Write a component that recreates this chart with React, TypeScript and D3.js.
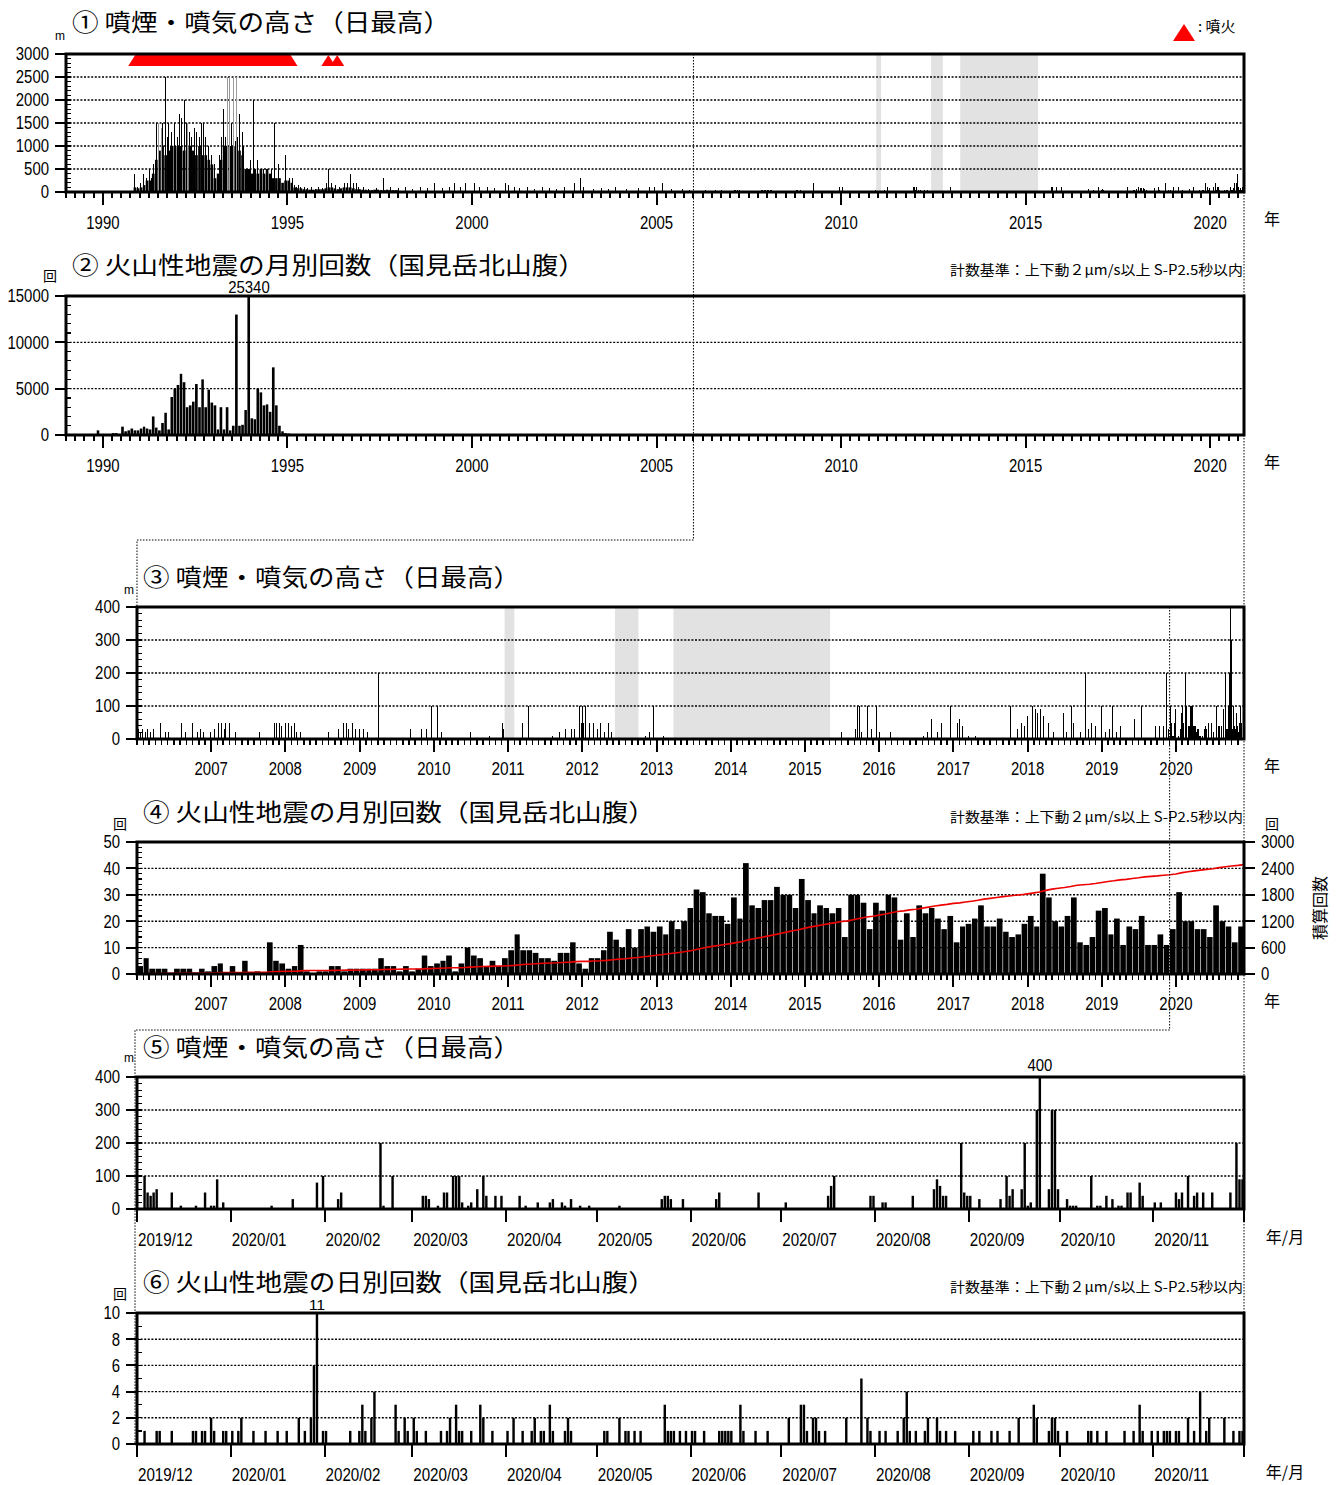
import React from 'react';
import * as d3 from 'd3';

// ---------- data ----------
// ① plume height, monthly dense level from 1990-10 (m)
const plumeMonthly90s = [
  0, 100, 80,
  100, 150, 250, 250, 400, 700, 900, 1000, 800, 900, 1000, 1000,
  1000, 1000, 900, 1000, 1000, 900, 800, 1000, 800, 800, 700, 600,
  300, 400, 700, 1000, 1000, 1000, 1000, 900, 900, 800, 500, 500,
  400, 500, 400, 500, 400, 500, 400, 300, 300, 300, 200, 250,
  250, 200, 100, 80, 80, 60, 60, 50, 50, 60, 60, 60,
  80, 100, 100, 80, 60, 80, 100, 100, 100, 80, 60, 60,
  50, 50, 40, 40, 50, 50, 40, 40, 50, 40, 40, 40,
];
// individual high days [decimal year, m]
const plumeSpikes90s = [
  [1990.87, 400], [1990.95, 100], [1991.03, 200], [1991.11, 400], [1991.18, 300], [1991.26, 500],
  [1991.32, 300], [1991.38, 600], [1991.46, 1500], [1991.53, 800], [1991.62, 1500], [1991.69, 2500],
  [1991.74, 1200], [1991.78, 1500], [1991.82, 1000], [1991.86, 1300], [1991.94, 1500], [1992.02, 1200],
  [1992.08, 1700], [1992.13, 1600], [1992.2, 2000], [1992.26, 1500], [1992.34, 1300], [1992.4, 1200],
  [1992.48, 1400], [1992.54, 1300], [1992.61, 1200], [1992.67, 1500], [1992.73, 1500], [1992.79, 1200],
  [1992.86, 1000], [1992.95, 800], [1993.03, 600], [1993.15, 800], [1993.22, 1200], [1993.28, 1800],
  [1993.33, 1200], [1993.49, 1500], [1993.58, 1100], [1993.65, 1200], [1993.71, 1700], [1993.77, 1300],
  [1993.82, 1000], [1993.93, 500], [1994.0, 700], [1994.07, 2000], [1994.19, 700], [1994.34, 500],
  [1994.46, 500], [1994.58, 500], [1994.66, 1500], [1994.76, 600], [1994.94, 800], [1995.06, 300],
];
const plumeGraySpikes = [
  [1991.5, 1500], [1991.58, 1400], [1992.3, 1500], [1993.37, 2500], [1993.44, 2500], [1993.54, 2500], [1993.61, 2500],
];
const plumeSpikes95to05 = [
  [1995.15, 300], [1995.2, 150], [1995.25, 100], [1995.3, 150], [1995.35, 100], [1995.45, 100], [1995.55, 80],
  [1995.65, 100], [1995.75, 60], [1995.85, 100], [1995.95, 80], [1996.05, 200], [1996.11, 500], [1996.2, 200],
  [1996.3, 150], [1996.4, 100], [1996.55, 200], [1996.62, 200], [1996.7, 400], [1996.78, 200], [1996.86, 200],
  [1996.92, 100], [1997.05, 100], [1997.2, 60], [1997.4, 80], [1997.6, 300], [1997.8, 100], [1998.0, 80],
  [1998.2, 100], [1998.4, 60], [1998.6, 100], [1998.8, 80], [1998.98, 200], [1999.2, 80], [1999.4, 100],
  [1999.53, 200], [1999.7, 100], [1999.83, 200], [2000.07, 200], [2000.2, 100], [2000.43, 100], [2000.6, 80],
  [2000.92, 200], [2000.98, 150], [2001.15, 100], [2001.3, 80], [2001.5, 100], [2001.7, 60], [2001.9, 100],
  [2002.1, 80], [2002.3, 60], [2002.5, 100], [2002.79, 200], [2002.95, 300], [2003.02, 100], [2003.3, 60],
  [2003.5, 80], [2003.7, 60], [2003.9, 100], [2004.2, 60], [2004.5, 80], [2004.8, 100], [2004.95, 100],
  [2005.17, 200], [2005.4, 60], [2005.7, 60], [2005.9, 50],
];
// ③ plume height 2006-01 .. 2019-11 [decimal year, m]
const plumeSpikes06to19 = [
  [2006.02, 30], [2006.05, 20], [2006.08, 30], [2006.11, 20], [2006.14, 30], [2006.18, 20], [2006.22, 30],
  [2006.32, 50], [2006.38, 20], [2006.42, 20], [2006.6, 50], [2006.66, 20], [2006.75, 50], [2006.82, 20],
  [2006.86, 30], [2006.9, 20], [2006.99, 20], [2007.05, 30], [2007.1, 50], [2007.14, 50], [2007.18, 30],
  [2007.2, 50], [2007.25, 50], [2007.33, 20], [2007.65, 20], [2007.85, 50], [2007.88, 50], [2007.92, 50],
  [2007.95, 40], [2008.0, 50], [2008.04, 50], [2008.08, 40], [2008.12, 50], [2008.15, 20], [2008.2, 20],
  [2008.58, 20], [2008.72, 30], [2008.78, 50], [2008.82, 50], [2008.85, 30], [2008.9, 50], [2008.95, 30],
  [2009.0, 30], [2009.05, 30], [2009.1, 20], [2009.25, 200], [2009.69, 30], [2009.83, 30], [2009.9, 30],
  [2009.97, 100], [2010.05, 100], [2010.1, 20], [2010.5, 20], [2010.75, 10], [2010.92, 50], [2010.94, 30],
  [2011.19, 50], [2011.27, 100], [2011.6, 10], [2011.7, 20], [2011.78, 30], [2011.85, 30], [2011.9, 30],
  [2011.97, 100], [2011.99, 50], [2012.0, 100], [2012.02, 50], [2012.05, 100], [2012.1, 50], [2012.15, 50],
  [2012.2, 30], [2012.25, 50], [2012.3, 20], [2012.35, 50], [2012.4, 20], [2012.85, 10], [2012.9, 20],
  [2012.96, 100], [2013.1, 10], [2015.5, 20], [2015.68, 30], [2015.71, 100], [2015.73, 100], [2015.76, 20],
  [2015.85, 100], [2015.9, 30], [2015.96, 100], [2016.0, 20], [2016.15, 20], [2016.6, 10], [2016.65, 20],
  [2016.71, 60], [2016.79, 20], [2016.84, 50], [2016.96, 100], [2017.05, 50], [2017.08, 60], [2017.12, 40],
  [2017.2, 10], [2017.3, 10], [2017.77, 100], [2017.87, 30], [2017.92, 50], [2017.96, 40], [2018.0, 70],
  [2018.06, 100], [2018.1, 90], [2018.14, 80], [2018.18, 90], [2018.22, 70], [2018.28, 50], [2018.35, 20],
  [2018.48, 80], [2018.52, 20], [2018.59, 100], [2018.62, 50], [2018.72, 20], [2018.78, 200], [2018.82, 30],
  [2018.86, 50], [2018.92, 40], [2019.0, 100], [2019.05, 20], [2019.1, 30], [2019.14, 100], [2019.2, 20],
  [2019.25, 40], [2019.44, 60], [2019.54, 100], [2019.72, 40], [2019.78, 40], [2019.83, 40], [2019.87, 200],
  [2019.9, 30],
];
// ⑤ daily max plume height 2019-12 .. 2020-11
const plumeDaily: [string, number][] = [
  ['2019-12-03', 100], ['2019-12-04', 50], ['2019-12-05', 40], ['2019-12-06', 50], ['2019-12-07', 60],
  ['2019-12-12', 50], ['2019-12-15', 10], ['2019-12-20', 10], ['2019-12-23', 50], ['2019-12-25', 10],
  ['2019-12-26', 10], ['2019-12-27', 90], ['2019-12-29', 20], ['2020-01-14', 10], ['2020-01-21', 30],
  ['2020-01-29', 80], ['2020-01-31', 100], ['2020-02-05', 30], ['2020-02-06', 50], ['2020-02-19', 200],
  ['2020-02-20', 10], ['2020-02-23', 100], ['2020-03-04', 40], ['2020-03-05', 40], ['2020-03-06', 30],
  ['2020-03-09', 10], ['2020-03-11', 50], ['2020-03-12', 50], ['2020-03-14', 100], ['2020-03-15', 100],
  ['2020-03-16', 100], ['2020-03-17', 20], ['2020-03-19', 10], ['2020-03-20', 20], ['2020-03-22', 60],
  ['2020-03-24', 100], ['2020-03-25', 40], ['2020-03-28', 40], ['2020-03-30', 40], ['2020-04-05', 40],
  ['2020-04-07', 10], ['2020-04-11', 20], ['2020-04-15', 20], ['2020-04-16', 30], ['2020-04-19', 20],
  ['2020-04-20', 10], ['2020-04-22', 30], ['2020-04-25', 10], ['2020-04-28', 10], ['2020-05-08', 10],
  ['2020-05-22', 30], ['2020-05-23', 40], ['2020-05-24', 40], ['2020-05-25', 30], ['2020-05-29', 30],
  ['2020-06-09', 30], ['2020-06-10', 50], ['2020-06-23', 50], ['2020-07-02', 20], ['2020-07-16', 40],
  ['2020-07-17', 70], ['2020-07-18', 100], ['2020-07-30', 40], ['2020-07-31', 40], ['2020-08-03', 20],
  ['2020-08-04', 20], ['2020-08-13', 40], ['2020-08-20', 60], ['2020-08-21', 90], ['2020-08-22', 70],
  ['2020-08-23', 40], ['2020-08-24', 40], ['2020-08-29', 200], ['2020-08-30', 50], ['2020-08-31', 40],
  ['2020-09-01', 40], ['2020-09-04', 30], ['2020-09-11', 30], ['2020-09-13', 100], ['2020-09-14', 40],
  ['2020-09-15', 60], ['2020-09-18', 60], ['2020-09-19', 200], ['2020-09-20', 10], ['2020-09-21', 20],
  ['2020-09-23', 300], ['2020-09-24', 400], ['2020-09-27', 60], ['2020-09-28', 300], ['2020-09-29', 300],
  ['2020-09-30', 60], ['2020-10-03', 30], ['2020-10-04', 10], ['2020-10-05', 10], ['2020-10-06', 10],
  ['2020-10-11', 100], ['2020-10-13', 10], ['2020-10-14', 10], ['2020-10-16', 40], ['2020-10-18', 30],
  ['2020-10-20', 10], ['2020-10-21', 10], ['2020-10-23', 50], ['2020-10-24', 50], ['2020-10-27', 80],
  ['2020-10-28', 40], ['2020-11-01', 20], ['2020-11-03', 20], ['2020-11-08', 50], ['2020-11-09', 30],
  ['2020-11-10', 50], ['2020-11-12', 100], ['2020-11-14', 40], ['2020-11-15', 50], ['2020-11-17', 50],
  ['2020-11-20', 50], ['2020-11-26', 50], ['2020-11-28', 200], ['2020-11-29', 90], ['2020-11-30', 90],
];
// ② monthly volcanic earthquakes from 1989-01
const quakesMonthly89 = [
  0, 0, 0, 0, 0, 0, 0, 0, 0, 0, 500, 0,
  0, 0, 0, 200, 200, 100, 900, 400, 500, 700, 500, 500,
  700, 900, 700, 600, 2000, 800, 500, 1300, 2400, 600, 4100, 5000,
  5400, 6600, 5700, 3000, 3200, 3600, 5500, 3000, 6000, 3000, 4900, 3500,
  3200, 600, 3000, 600, 3000, 500, 1000, 13000, 1000, 1100, 2700, 25340,
  1800, 1700, 5000, 4600, 3200, 3300, 2500, 7300, 3200, 1000, 400, 200,
  150, 80, 50, 30, 30, 20, 20, 20, 20, 10, 10, 10,
];
// ④ monthly volcanic earthquakes from 2006-01
const quakesMonthly06 = [
  3, 6, 2, 2, 2, 0, 2, 2, 2, 0, 2, 1,
  3, 4, 0, 3, 0, 5, 0, 1, 0, 12, 5, 4,
  2, 3, 11, 1, 0, 1, 1, 3, 3, 1, 2, 2,
  2, 2, 2, 6, 3, 3, 1, 3, 1, 2, 7, 3,
  4, 5, 7, 1, 4, 10, 7, 6, 3, 5, 3, 6,
  9, 15, 9, 9, 8, 6, 6, 5, 8, 8, 12, 4,
  2, 6, 6, 9, 16, 13, 10, 17, 10, 17, 18, 16,
  18, 15, 20, 17, 20, 25, 32, 31, 23, 22, 22, 19,
  29, 21, 42, 26, 25, 28, 28, 33, 30, 30, 25, 36,
  28, 23, 26, 25, 23, 25, 14, 30, 30, 27, 17, 27,
  24, 30, 29, 13, 23, 14, 26, 23, 25, 21, 17, 22,
  12, 18, 19, 21, 26, 18, 18, 21, 16, 14, 15, 19,
  22, 18, 38, 29, 20, 18, 22, 29, 12, 11, 14, 24,
  25, 15, 21, 11, 18, 17, 22, 11, 11, 15, 11, 17,
  31, 20, 20, 17, 17, 14, 26, 20, 18, 12, 18,
];
// ⑥ daily volcanic earthquakes 2019-12 .. 2020-11
const quakesDaily: [string, number][] = [
  ['2019-12-03', 1], ['2019-12-07', 1], ['2019-12-08', 1], ['2019-12-12', 1], ['2019-12-19', 1], ['2019-12-20', 1],
  ['2019-12-22', 1], ['2019-12-23', 1], ['2019-12-25', 2], ['2019-12-26', 1], ['2019-12-29', 1], ['2019-12-30', 1],
  ['2020-01-01', 1], ['2020-01-03', 1], ['2020-01-04', 2], ['2020-01-08', 1], ['2020-01-12', 1], ['2020-01-16', 1],
  ['2020-01-19', 1], ['2020-01-23', 2], ['2020-01-25', 1], ['2020-01-27', 2], ['2020-01-28', 6], ['2020-01-29', 11],
  ['2020-01-31', 1], ['2020-02-01', 1], ['2020-02-09', 1], ['2020-02-12', 1], ['2020-02-13', 3], ['2020-02-14', 1],
  ['2020-02-16', 2], ['2020-02-17', 4], ['2020-02-24', 3], ['2020-02-25', 1], ['2020-02-27', 2], ['2020-02-28', 1],
  ['2020-03-01', 2], ['2020-03-02', 1], ['2020-03-05', 1], ['2020-03-10', 1], ['2020-03-12', 1], ['2020-03-13', 2],
  ['2020-03-15', 3], ['2020-03-16', 1], ['2020-03-17', 1], ['2020-03-20', 1], ['2020-03-23', 3], ['2020-03-24', 2],
  ['2020-03-27', 1], ['2020-04-01', 1], ['2020-04-03', 2], ['2020-04-06', 1], ['2020-04-09', 1], ['2020-04-10', 2],
  ['2020-04-12', 1], ['2020-04-13', 1], ['2020-04-15', 3], ['2020-04-16', 1], ['2020-04-20', 1], ['2020-04-21', 2],
  ['2020-04-22', 1], ['2020-05-03', 1], ['2020-05-04', 1], ['2020-05-08', 2], ['2020-05-10', 1], ['2020-05-11', 1],
  ['2020-05-13', 1], ['2020-05-15', 1], ['2020-05-23', 3], ['2020-05-24', 1], ['2020-05-25', 1], ['2020-05-26', 1],
  ['2020-05-28', 1], ['2020-05-30', 1], ['2020-06-01', 1], ['2020-06-02', 1], ['2020-06-05', 1], ['2020-06-10', 1],
  ['2020-06-11', 1], ['2020-06-12', 1], ['2020-06-13', 1], ['2020-06-14', 1], ['2020-06-17', 3], ['2020-06-18', 1],
  ['2020-06-22', 1], ['2020-06-26', 1], ['2020-07-03', 2], ['2020-07-07', 3], ['2020-07-08', 3], ['2020-07-09', 1],
  ['2020-07-11', 2], ['2020-07-12', 2], ['2020-07-13', 1], ['2020-07-15', 1], ['2020-07-22', 2], ['2020-07-27', 5],
  ['2020-07-29', 2], ['2020-07-30', 1], ['2020-08-02', 1], ['2020-08-04', 1], ['2020-08-08', 1], ['2020-08-10', 2],
  ['2020-08-11', 4], ['2020-08-12', 1], ['2020-08-14', 1], ['2020-08-17', 1], ['2020-08-18', 2], ['2020-08-21', 2],
  ['2020-08-22', 1], ['2020-08-24', 1], ['2020-08-27', 1], ['2020-09-02', 1], ['2020-09-04', 1], ['2020-09-08', 1],
  ['2020-09-10', 1], ['2020-09-14', 1], ['2020-09-17', 2], ['2020-09-22', 3], ['2020-09-23', 2], ['2020-09-27', 1],
  ['2020-09-28', 2], ['2020-09-29', 2], ['2020-09-30', 1], ['2020-10-03', 1], ['2020-10-10', 1], ['2020-10-11', 1],
  ['2020-10-13', 1], ['2020-10-16', 1], ['2020-10-22', 1], ['2020-10-25', 1], ['2020-10-27', 3], ['2020-10-28', 1],
  ['2020-10-31', 1], ['2020-11-02', 1], ['2020-11-04', 1], ['2020-11-05', 1], ['2020-11-06', 1], ['2020-11-08', 1],
  ['2020-11-09', 1], ['2020-11-12', 2], ['2020-11-14', 1], ['2020-11-16', 4], ['2020-11-18', 1], ['2020-11-19', 2],
  ['2020-11-24', 2], ['2020-11-27', 1], ['2020-11-29', 1], ['2020-11-30', 1],
];
// periods without observation (gray)
const missingPeriods = [
  ['2010-12-15', '2011-02-01'],
  ['2012-06-10', '2012-10-04'],
  ['2013-03-25', '2015-05-05'],
];
// eruptions
const eruptionRanges = [['1990-11-17', '1995-02-01']];
const eruptionDays = ['1996-02-10', '1996-05-08'];

const yearTicksLong = [1990, 1995, 2000, 2005, 2010, 2015, 2020];
const yearTicksShort = [2007, 2008, 2009, 2010, 2011, 2012, 2013, 2014, 2015, 2016, 2017, 2018, 2019, 2020];

const NOTE = '計数基準：上下動２μm/s以上 S-P2.5秒以内';

// ---------- helpers ----------
const NUM = '"Liberation Sans",Arial,sans-serif';
const JP = '"Noto Sans CJK JP","Noto Sans",sans-serif';
const utc = (s: string) => new Date(s + 'T00:00:00Z');
const DAY = 86400000;
const fromYear = (y: number) => {
  const yr = Math.floor(y);
  const a = Date.UTC(yr, 0, 1);
  const b = Date.UTC(yr + 1, 0, 1);
  return new Date(a + (y - yr) * (b - a));
};
const month = (y: number, m: number, i: number) => new Date(Date.UTC(y, m + i, 1));

const RIGHT = 1244;
const END = utc('2020-12-01');

const x1 = d3.scaleUtc().domain([utc('1989-01-01'), END]).range([66, RIGHT]);
const x3 = d3.scaleUtc().domain([utc('2006-01-01'), END]).range([137, RIGHT]);
const x5 = d3.scaleUtc().domain([utc('2019-12-01'), END]).range([137, RIGHT]);

const y1 = d3.scaleLinear().domain([0, 3000]).range([192, 54]);
const y2 = d3.scaleLinear().domain([0, 15000]).range([435, 296]);
const y3 = d3.scaleLinear().domain([0, 400]).range([739, 607]);
const y4 = d3.scaleLinear().domain([0, 50]).range([974, 842]);
const y4r = d3.scaleLinear().domain([0, 3000]).range([974, 842]);
const y5 = d3.scaleLinear().domain([0, 400]).range([1209, 1077]);
const y6 = d3.scaleLinear().domain([0, 10]).range([1444, 1313]);

// tall narrow numerals, like the original plotting font
function Num(props: any) {
  const s = String(props.children);
  const w = s.split('').reduce((acc, c) => acc + (c === '/' || c === '.' ? 5 : 8.3), 0);
  return (
    <text {...props} fontSize={props.fontSize || 18} fontFamily={NUM} textLength={w} lengthAdjust="spacingAndGlyphs">
      {s}
    </text>
  );
}

function grid(y: any, left: number, step: number) {
  const [lo, hi] = y.domain();
  return d3.range(lo + step, hi, step).map((v) => (
    <line key={'g' + v} x1={left} x2={RIGHT} y1={y(v)} y2={y(v)} stroke="#000" strokeWidth={1.4} strokeDasharray="2,1.6" />
  ));
}

function yAxisLeft(y: any, left: number, step: number, minorStep: number) {
  const [lo, hi] = y.domain();
  const majors = d3.range(lo, hi + step / 2, step);
  const minors = d3.range(lo, hi + minorStep / 2, minorStep);
  return (
    <g>
      {minors.map((v) => (
        <line key={'m' + v} x1={left} x2={left + 5} y1={y(v)} y2={y(v)} stroke="#000" strokeWidth={1.2} shapeRendering="crispEdges" />
      ))}
      {majors.map((v) => (
        <g key={'M' + v}>
          <line x1={left - 11} x2={left} y1={y(v)} y2={y(v)} stroke="#000" strokeWidth={2} shapeRendering="crispEdges" />
          <Num x={left - 17} y={y(v)} dy="0.36em" textAnchor="end">{v}</Num>
        </g>
      ))}
    </g>
  );
}

function frame(left: number, top: number, bottom: number) {
  return <rect x={left} y={top} width={RIGHT - left} height={bottom - top} fill="none" stroke="#000" strokeWidth={3} />;
}

function title(text: string, x: number, y: number, len: number) {
  return <text x={x} y={y} fontSize={24} fontFamily={JP} textLength={len} lengthAdjust="spacingAndGlyphs">{text}</text>;
}

function note(y: number) {
  return <text x={1243} y={y} fontSize={14} fontFamily={JP} textAnchor="end" textLength={293} lengthAdjust="spacingAndGlyphs">{NOTE}</text>;
}

function spike(x: number, y: any, v: number, key: string, color = '#000') {
  const top = y(Math.min(v, y.domain()[1]));
  return <line key={key} x1={x} x2={x} y1={y(0)} y2={top} stroke={color} strokeWidth={1} shapeRendering="crispEdges" />;
}

// long-range x axis (①②)
function xAxisLong(axisY: number) {
  const quarters = d3.utcMonth.every(3)!.range(utc('1989-01-01'), END);
  return (
    <g>
      {quarters.map((d, i) => (
        <line key={'q' + i} x1={x1(d)} x2={x1(d)} y1={axisY} y2={axisY + 6} stroke="#000" strokeWidth={2} shapeRendering="crispEdges" />
      ))}
      {yearTicksLong.map((yr) => {
        const xx = x1(new Date(Date.UTC(yr, 0, 1)));
        return (
          <g key={'y' + yr}>
            <line x1={xx} x2={xx} y1={axisY} y2={axisY + 13} stroke="#000" strokeWidth={2} shapeRendering="crispEdges" />
            <Num x={xx} y={axisY + 37} textAnchor="middle">{yr}</Num>
          </g>
        );
      })}
      <text x={1272} y={axisY + 33} textAnchor="middle" fontSize={16} fontFamily={JP}>年</text>
    </g>
  );
}

// 2006-2020 x axis (③④)
function xAxisMid(axisY: number) {
  const months = d3.utcMonth.range(utc('2006-01-01'), END);
  return (
    <g>
      {months.map((d, i) => (
        <line key={'mo' + i} x1={x3(d)} x2={x3(d)} y1={axisY} y2={axisY + 6} stroke="#000" strokeWidth={1.5} shapeRendering="crispEdges" />
      ))}
      {yearTicksShort.map((yr) => {
        const xx = x3(new Date(Date.UTC(yr, 0, 1)));
        return (
          <g key={'y' + yr}>
            <line x1={xx} x2={xx} y1={axisY} y2={axisY + 13} stroke="#000" strokeWidth={2} shapeRendering="crispEdges" />
            <Num x={xx} y={axisY + 36} textAnchor="middle">{yr}</Num>
          </g>
        );
      })}
      <text x={1272} y={axisY + 33} textAnchor="middle" fontSize={16} fontFamily={JP}>年</text>
    </g>
  );
}

// one-year x axis (⑤⑥)
function xAxisShort(axisY: number) {
  const months = d3.utcMonth.range(utc('2019-12-01'), new Date(END.getTime() + DAY));
  const fmt = d3.utcFormat('%Y/%m');
  return (
    <g>
      {months.map((d, i) => (
        <g key={'mm' + i}>
          <line x1={x5(d)} x2={x5(d)} y1={axisY} y2={axisY + 13} stroke="#000" strokeWidth={2} shapeRendering="crispEdges" />
          {d < END && <Num x={x5(d) + 1} y={axisY + 37}>{fmt(d)}</Num>}
        </g>
      ))}
      <text x={1285} y={axisY + 34} textAnchor="middle" fontSize={16} fontFamily={JP}>年/月</text>
    </g>
  );
}

function missing(x: any, top: number, bottom: number) {
  return missingPeriods.map(([a, b], i) => (
    <rect key={'gap' + i} x={x(utc(a))} width={x(utc(b)) - x(utc(a))} y={top + 1} height={bottom - top - 1} fill="#e2e2e2" />
  ));
}

export default function App() {
  const mw1 = (i: number, y0: number, m0: number) => [x1(month(y0, m0, i)), x1(month(y0, m0, i + 1))];

  // cumulative count for ④
  const cum = d3.cumsum(quakesMonthly06);
  const cumPts: [number, number][] = [[x3(month(2006, 0, 0)), y4r(0)]];
  quakesMonthly06.forEach((_, i) => cumPts.push([x3(month(2006, 0, i + 1)), y4r(cum[i])]));
  const cumLine = d3.line()(cumPts) || '';

  const cutX1 = x1(utc('2006-01-01'));
  const cutX3 = x3(utc('2019-12-01'));

  const tri = (cx0: number, cx1: number) =>
    `M${cx0 - 7},66 L${cx0},55 L${cx1},55 L${cx1 + 7},66 Z`;

  return (
    <svg width={1341} height={1485} style={{ position: 'absolute', left: 0, top: 0, background: '#fff' }}>
      <rect width={1341} height={1485} fill="#fff" />

      {/* ---------- ① ---------- */}
      <text x={55} y={40} fontSize={12} fontFamily={NUM}>m</text>
      {title('① 噴煙・噴気の高さ（日最高）', 72, 31, 378)}
      <path d="M1184,24 L1195,41 L1173,41 Z" fill="#f00" />
      <text x={1198} y={32} fontSize={15} fontFamily={JP}>: 噴火</text>
      {missing(x1, 54, 192)}
      {grid(y1, 66, 500)}
      {plumeMonthly90s.map((v, i) => {
        const [a, b] = mw1(i, 1990, 9);
        return v > 0 ? <rect key={'pm' + i} x={a} width={b - a - 0.4} y={y1(v)} height={y1(0) - y1(v)} fill="#000" /> : null;
      })}
      {plumeGraySpikes.map(([t, v], i) => spike(x1(fromYear(t)), y1, v, 'pg' + i, '#9a9a9a'))}
      {plumeSpikes90s.map(([t, v], i) => spike(x1(fromYear(t)), y1, v, 'ps' + i))}
      {plumeSpikes95to05.map(([t, v], i) => spike(x1(fromYear(t)), y1, v, 'pt' + i))}
      {plumeSpikes06to19.map(([t, v], i) => spike(x1(fromYear(t)), y1, v, 'pu' + i))}
      {plumeDaily.map(([d, v], i) => spike(x1(new Date(utc(d).getTime() + DAY / 2)), y1, v, 'pd' + i))}
      {eruptionRanges.map(([a, b], i) => <path key={'er' + i} d={tri(x1(utc(a)), x1(utc(b)))} fill="#f00" />)}
      {eruptionDays.map((d, i) => <path key={'ed' + i} d={tri(x1(utc(d)), x1(utc(d)))} fill="#f00" />)}
      {frame(66, 54, 192)}
      {yAxisLeft(y1, 66, 500, 100)}
      {xAxisLong(192)}

      {/* ---------- ② ---------- */}
      <text x={50} y={281} fontSize={14} fontFamily={JP} textAnchor="middle">回</text>
      {title('② 火山性地震の月別回数（国見岳北山腹）', 72, 274, 513)}
      {note(275)}
      {grid(y2, 66, 5000)}
      {quakesMonthly89.map((v, i) => {
        const [a, b] = mw1(i, 1989, 0);
        return v > 0 ? <rect key={'q8' + i} x={a} width={b - a - 0.5} y={y2(Math.min(v, 15000))} height={y2(0) - y2(Math.min(v, 15000))} fill="#000" /> : null;
      })}
      {quakesMonthly06.map((v, i) => {
        const [a, b] = mw1(i, 2006, 0);
        return v > 0 ? <rect key={'q0' + i} x={a} width={b - a - 0.5} y={y2(v)} height={y2(0) - y2(v)} fill="#000" /> : null;
      })}
      {quakesMonthly89.map((v, i) => {
        if (v <= 15000) return null;
        const [a, b] = mw1(i, 1989, 0);
        return <Num key={'ql' + i} x={(a + b) / 2} y={293} textAnchor="middle" fontSize={16}>{v}</Num>;
      })}
      {frame(66, 296, 435)}
      {yAxisLeft(y2, 66, 5000, 1000)}
      {xAxisLong(435)}

      {/* ---------- ③ ---------- */}
      <text x={124} y={594} fontSize={12} fontFamily={NUM}>m</text>
      {title('③ 噴煙・噴気の高さ（日最高）', 143, 586, 377)}
      {missing(x3, 607, 739)}
      {grid(y3, 137, 100)}
      {plumeSpikes06to19.map(([t, v], i) => spike(x3(fromYear(t)), y3, v, 'p3' + i))}
      {plumeDaily.map(([d, v], i) => spike(x3(new Date(utc(d).getTime() + DAY / 2)), y3, v, 'p3d' + i))}
      {frame(137, 607, 739)}
      {yAxisLeft(y3, 137, 100, 20)}
      {xAxisMid(739)}

      {/* ---------- ④ ---------- */}
      <text x={120} y={829} fontSize={14} fontFamily={JP} textAnchor="middle">回</text>
      {title('④ 火山性地震の月別回数（国見岳北山腹）', 143, 821, 512)}
      {note(822)}
      <text x={1272} y={829} fontSize={14} fontFamily={JP} textAnchor="middle">回</text>
      {grid(y4, 137, 10)}
      {quakesMonthly06.map((v, i) => {
        const a = x3(month(2006, 0, i));
        const b = x3(month(2006, 0, i + 1));
        return v > 0 ? <rect key={'q4' + i} x={a + 0.3} width={b - a - 0.6} y={y4(v)} height={y4(0) - y4(v)} fill="#000" /> : null;
      })}
      <path d={cumLine} fill="none" stroke="#e00" strokeWidth={1.6} />
      {frame(137, 842, 974)}
      {yAxisLeft(y4, 137, 10, 2)}
      {d3.range(0, 3001, 600).map((v) => (
        <g key={'r' + v}>
          <line x1={RIGHT} x2={RIGHT + 11} y1={y4r(v)} y2={y4r(v)} stroke="#000" strokeWidth={2} shapeRendering="crispEdges" />
          <Num x={1261} y={y4r(v)} dy="0.36em">{v}</Num>
        </g>
      ))}
      <text transform="translate(1326,908) rotate(-90)" textAnchor="middle" fontSize={16} fontFamily={JP}>積算回数</text>
      {xAxisMid(974)}

      {/* ---------- ⑤ ---------- */}
      <text x={124} y={1062} fontSize={12} fontFamily={NUM}>m</text>
      {title('⑤ 噴煙・噴気の高さ（日最高）', 143, 1056, 377)}
      {grid(y5, 137, 100)}
      {plumeDaily.map(([d, v], i) => {
        const a = x5(utc(d));
        const b = x5(new Date(utc(d).getTime() + DAY));
        const vv = Math.min(v, 400);
        return <rect key={'p5' + i} x={a + 0.3} width={b - a - 0.6} y={y5(vv)} height={y5(0) - y5(vv)} fill="#000" />;
      })}
      {plumeDaily.filter(([, v]) => v >= 400).map(([d, v], i) => (
        <Num key={'p5l' + i} x={x5(new Date(utc(d).getTime() + DAY / 2))} y={1071} textAnchor="middle" fontSize={16}>{v}</Num>
      ))}
      {frame(137, 1077, 1209)}
      {yAxisLeft(y5, 137, 100, 20)}
      {xAxisShort(1209)}

      {/* ---------- ⑥ ---------- */}
      <text x={120} y={1299} fontSize={14} fontFamily={JP} textAnchor="middle">回</text>
      {title('⑥ 火山性地震の日別回数（国見岳北山腹）', 143, 1291, 512)}
      {note(1292)}
      {grid(y6, 137, 2)}
      {quakesDaily.map(([d, v], i) => {
        const a = x5(utc(d));
        const b = x5(new Date(utc(d).getTime() + DAY));
        const vv = Math.min(v, 10);
        return <rect key={'q6' + i} x={a + 0.3} width={b - a - 0.6} y={y6(vv)} height={y6(0) - y6(vv)} fill="#000" />;
      })}
      {quakesDaily.filter(([, v]) => v > 10).map(([d, v], i) => (
        <Num key={'q6l' + i} x={x5(new Date(utc(d).getTime() + DAY / 2))} y={1310} textAnchor="middle" fontSize={15}>{v}</Num>
      ))}
      {frame(137, 1313, 1444)}
      {yAxisLeft(y6, 137, 2, 1)}
      {xAxisShort(1444)}

      {/* ---------- zoom connectors ---------- */}
      <path d={`M${cutX1},54 V540 H137 V607`} fill="none" stroke="#000" strokeWidth={1} strokeDasharray="1.5,1.5" />
      <path d={`M${RIGHT},54 V1444`} fill="none" stroke="#000" strokeWidth={1} strokeDasharray="1.5,1.5" />
      <path d={`M${cutX3},607 V1030 H135 V1444`} fill="none" stroke="#000" strokeWidth={1} strokeDasharray="1.5,1.5" />
    </svg>
  );
}
